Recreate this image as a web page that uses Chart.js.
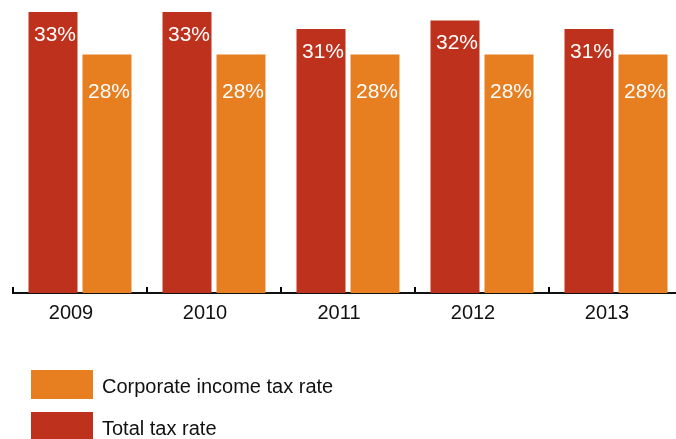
<!DOCTYPE html>
<html>
<head>
<meta charset="utf-8">
<title>Tax rates 2009-2013</title>
<script src="https://cdn.jsdelivr.net/npm/chart.js@4/dist/chart.umd.min.js"></script>
<style>
  html, body { margin: 0; padding: 0; overflow: hidden; background: #fff; }
  #wrap { width: 690px; height: 439px; }
</style>
</head>
<body>
<div id="wrap"><canvas id="chartRates" width="690" height="439"></canvas></div>
<script>
const years = ['2009', '2010', '2011', '2012', '2013'];
const totalTaxRate = [33, 33, 31, 32, 31];
const corporateTaxRate = [28, 28, 28, 28, 28];

const RED = 'rgb(190, 49, 28)';
const ORANGE = 'rgb(231, 126, 32)';
const FONT = '"Liberation Sans", Arial, Helvetica, sans-serif';

// white value labels near the top of every bar
const barValues = {
  id: 'barValues',
  afterDatasetsDraw(chart) {
    const ctx = chart.ctx;
    ctx.save();
    ctx.fillStyle = '#fff';
    ctx.font = '21px ' + FONT;
    ctx.textAlign = 'center';
    ctx.textBaseline = 'middle';
    chart.data.datasets.forEach((ds, i) => {
      chart.getDatasetMeta(i).data.forEach((bar, j) => {
        ctx.fillText(ds.data[j] + '%', bar.x + 2, bar.y + ds.valueDrop);
      });
    });
    ctx.restore();
  },
};

// stacked legend under the axis, one row per series
const stackedLegend = {
  id: 'stackedLegend',
  afterDraw(chart) {
    const ctx = chart.ctx;
    const sets = chart.data.datasets.slice().reverse();
    ctx.save();
    ctx.font = '20px ' + FONT;
    ctx.textBaseline = 'middle';
    sets.forEach((ds, i) => {
      const top = 370 + i * 42;
      ctx.fillStyle = ds.backgroundColor;
      ctx.fillRect(31, top, 62, 29);
      ctx.fillStyle = '#111';
      ctx.fillText(ds.label, 102, top + 17);
    });
    ctx.restore();
  },
};

const dataRates = {
  labels: years,
  datasets: [
    {
      label: 'Total tax rate',
      data: totalTaxRate,
      backgroundColor: RED,
      valueDrop: 23,
    },
    {
      label: 'Corporate income tax rate',
      data: corporateTaxRate,
      backgroundColor: ORANGE,
      valueDrop: 38,
    },
  ],
};

const configRates = {
  type: 'bar',
  data: dataRates,
  options: {
    responsive: false,
    animation: false,
    categoryPercentage: 0.806,
    barPercentage: 0.907,
    layout: { padding: { top: 12, left: 13, right: 7, bottom: 100 } },
    plugins: {
      legend: { display: false },
      tooltip: { enabled: false },
    },
    scales: {
      y: {
        display: false,
        min: 0,
        max: 33,
      },
      x: {
        offset: true,
        grid: {
          offset: true,
          drawOnChartArea: false,
          drawTicks: true,
          tickLength: -6,
          color: '#000',
          lineWidth: 2,
        },
        border: { display: true, color: '#111', width: 2 },
        ticks: {
          color: '#111',
          font: { family: FONT, size: 20 },
          padding: 14,
          labelOffset: -9,
          maxRotation: 0,
        },
      },
    },
  },
  plugins: [barValues, stackedLegend],
};

var chartRates = new Chart(document.getElementById('chartRates'), configRates);
</script>
</body>
</html>
